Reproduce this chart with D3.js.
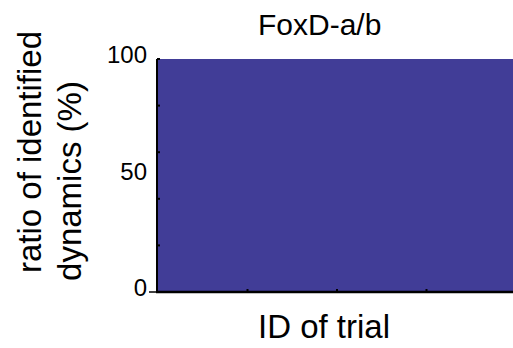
<!DOCTYPE html>
<html>
<head>
<meta charset="utf-8">
<script src="https://cdn.jsdelivr.net/npm/d3@7"></script>
<style>
  html, body { margin: 0; padding: 0; background: #fff; overflow: hidden; }
  svg { display: block; font-family: "Liberation Sans", Arial, sans-serif; }
</style>
</head>
<body>
<div id="chart"></div>
<script>
const trials = [0, 1, 2, 3, 4];
const identified = [100, 100, 100, 100, 100];
const xTicks = [1, 2, 3];
const yTicks = [0, 20, 40, 60, 80, 100];
const yLabels = [0, 50, 100];

const W = 513, H = 348;
const fillColor = "#413d97";

const svg = d3.select("#chart").append("svg").attr("width", W).attr("height", H);

const x = d3.scaleLinear().domain([0, 4]).range([158, 516]);
const y = d3.scaleLinear().domain([0, 100]).range([292, 59]);

const rows = trials.map((t, i) => ({ t, v: identified[i] }));

const area = d3.area()
  .x((d) => x(d.t))
  .y0(y(0))
  .y1((d) => y(d.v));

svg.append("path")
  .datum(rows)
  .attr("d", area)
  .attr("fill", fillColor);

// y axis: inward ticks, labels only at 0/50/100
const yAxis = svg.append("g");
yAxis.append("line")
  .attr("x1", x(0) - 1).attr("x2", x(0) - 1)
  .attr("y1", y(100)).attr("y2", y(0) + 1)
  .attr("stroke", "#000").attr("stroke-width", 2);
yAxis.selectAll("line.tick")
  .data(yTicks)
  .join("line")
  .attr("class", "tick")
  .attr("x1", x(0) - 1).attr("x2", x(0) + 2)
  .attr("y1", (d) => y(d)).attr("y2", (d) => y(d))
  .attr("stroke", "#000").attr("stroke-width", 2);
yAxis.append("line")
  .attr("x1", x(0) - 9).attr("x2", x(0))
  .attr("y1", y(0)).attr("y2", y(0))
  .attr("stroke", "#000").attr("stroke-width", 1.5);
yAxis.selectAll("text")
  .data(yLabels)
  .join("text")
  .attr("x", 147)
  .attr("y", (d) => y(d) + 4)
  .attr("text-anchor", "end")
  .attr("font-size", 24)
  .text((d) => d);

// x axis
const xAxis = svg.append("g");
xAxis.append("line")
  .attr("x1", x(0) - 2).attr("x2", W)
  .attr("y1", y(0)).attr("y2", y(0))
  .attr("stroke", "#000").attr("stroke-width", 2.5);
xAxis.selectAll("line.tick")
  .data(xTicks)
  .join("line")
  .attr("class", "tick")
  .attr("x1", (d) => x(d)).attr("x2", (d) => x(d))
  .attr("y1", y(0)).attr("y2", y(0) - 3)
  .attr("stroke", "#000").attr("stroke-width", 2);

svg.append("text")
  .attr("x", 258).attr("y", 35)
  .attr("font-size", 30)
  .text("FoxD-a/b");

svg.append("text")
  .attr("x", 258).attr("y", 338)
  .attr("font-size", 33)
  .text("ID of trial");

svg.append("text")
  .attr("transform", "translate(41,152) rotate(-90)")
  .attr("text-anchor", "middle")
  .attr("font-size", 33)
  .text("ratio of identified");

svg.append("text")
  .attr("transform", "translate(81,181) rotate(-90)")
  .attr("text-anchor", "middle")
  .attr("font-size", 33)
  .text("dynamics (%)");
</script>
</body>
</html>
